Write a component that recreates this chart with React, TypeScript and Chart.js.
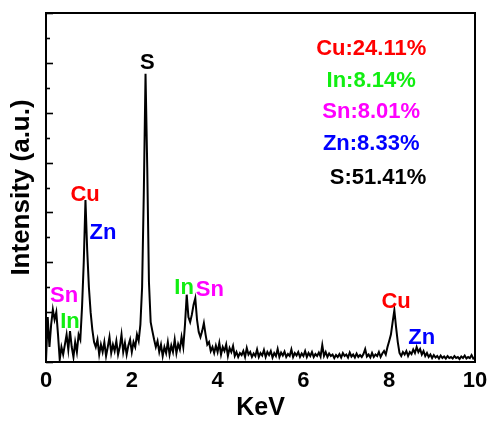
import React, { useEffect, useRef } from "react";
import { Chart, registerables } from "chart.js";

Chart.register(...registerables);

// Sampling grid of the EDS spectrum (keV)
const STEP_KEV = 0.04;
// Intensity (a.u.), one value per 0.04 keV, 0.00 .. 10.00 keV
const COUNTS = [
  0.02, 0.9, 0.3, 0.75, 1.05, 0.85, 1.0, 0.55, 0.05, 0.3,
  0.15, 0.35, 0.55, 0.25, 0.62, 0.3, 0.1, 0.4, 0.2, 0.55,
  0.45, 1.1, 2.0, 3.25, 2.25, 1.5, 1.0, 0.65, 0.4, 0.3,
  0.45, 0.15, 0.35, 0.2, 0.4, 0.12, 0.3, 0.5, 0.18, 0.35,
  0.22, 0.42, 0.15, 0.3, 0.55, 0.2, 0.38, 0.15, 0.33, 0.45,
  0.2, 0.4, 0.3, 0.55, 0.42, 0.75, 1.5, 3.4, 5.78, 3.9,
  1.6, 0.8, 0.62, 0.45, 0.3, 0.42, 0.2, 0.35, 0.12, 0.3,
  0.18, 0.4, 0.15, 0.33, 0.2, 0.45, 0.18, 0.36, 0.25, 0.5,
  0.3, 0.75, 1.35, 0.9, 0.8, 0.95, 1.15, 1.28, 0.85, 0.6,
  0.5, 0.62, 0.78, 0.55, 0.35, 0.4, 0.22, 0.3, 0.18, 0.33,
  0.2, 0.38, 0.15, 0.3, 0.22, 0.35, 0.12, 0.28, 0.2, 0.32,
  0.12, 0.2, 0.1, 0.18, 0.14, 0.22, 0.1, 0.28, 0.15, 0.2,
  0.1, 0.17, 0.12, 0.25, 0.1, 0.18, 0.13, 0.24, 0.1, 0.2,
  0.14, 0.22, 0.09, 0.18, 0.12, 0.26, 0.1, 0.19, 0.13, 0.21,
  0.1, 0.16, 0.12, 0.25, 0.1, 0.18, 0.13, 0.2, 0.1, 0.17,
  0.12, 0.22, 0.1, 0.18, 0.12, 0.2, 0.1, 0.16, 0.12, 0.19,
  0.11, 0.34, 0.12, 0.2, 0.1, 0.17, 0.12, 0.15, 0.08, 0.14,
  0.1, 0.16, 0.09, 0.18, 0.12, 0.15, 0.09, 0.19, 0.11, 0.15,
  0.09, 0.17, 0.1, 0.14, 0.1, 0.16, 0.26, 0.11, 0.15, 0.09,
  0.18, 0.1, 0.15, 0.12, 0.2, 0.1, 0.17, 0.22, 0.15, 0.3,
  0.42, 0.55, 0.8, 1.04, 0.7, 0.4, 0.18, 0.12, 0.2, 0.15,
  0.22, 0.12, 0.2, 0.16, 0.25, 0.18, 0.3, 0.2, 0.26, 0.15,
  0.22, 0.12, 0.18, 0.1, 0.15, 0.08, 0.14, 0.09, 0.12, 0.07,
  0.13, 0.08, 0.11, 0.07, 0.12, 0.08, 0.1, 0.07, 0.12, 0.08,
  0.1, 0.06, 0.11, 0.08, 0.13, 0.07, 0.1, 0.08, 0.14, 0.07,
  0.09,
];

// Axis ranges
const X_MIN = 0;
const X_MAX = 10;
const X_STEP = 2;
const Y_MIN = 0;
const Y_MAX = 7;
const Y_MAJOR = 1;
const Y_MINOR = 0.5;

// Peak labels
const PEAK_LABELS = ["S", "Cu", "Zn", "Sn", "In", "In", "Sn", "Cu", "Zn"];
const PEAK_COLORS = ["#000000", "#ff0000", "#0000ff", "#ff00ff", "#11ee11", "#11ee11", "#ff00ff", "#ff0000", "#0000ff"];
const PEAK_X = [2.36, 0.91, 1.33, 0.42, 0.56, 3.22, 3.82, 8.16, 8.76];
const PEAK_Y = [6.0, 3.36, 2.59, 1.32, 0.8, 1.49, 1.44, 1.2, 0.48];

// Composition
const COMP_LABELS = ["Cu:24.11%", "In:8.14%", "Sn:8.01%", "Zn:8.33%", "S:51.41%"];
const COMP_COLORS = ["#ff0000", "#11ee11", "#ff00ff", "#0000ff", "#000000"];
const COMP_X = [7.58, 7.58, 7.58, 7.58, 7.74];
const COMP_Y = [6.27, 5.64, 5.02, 4.38, 3.69];

const FONT = "'Liberation Sans', Arial, Helvetica, sans-serif";

export default function App() {
  const ref = useRef<HTMLCanvasElement | null>(null);

  useEffect(() => {
    const canvas = ref.current;
    if (!canvas) return;

    const framePlugin = {
      id: "frameAndLabels",
      afterDatasetsDraw(chart: any) {
        const { ctx, chartArea, scales } = chart;
        const xs = scales.x;
        const ys = scales.y;
        ctx.save();
        // frame
        ctx.strokeStyle = "#000";
        ctx.lineWidth = 2;
        ctx.strokeRect(chartArea.left, chartArea.top, chartArea.right - chartArea.left, chartArea.bottom - chartArea.top);
        // inward y ticks
        ctx.lineWidth = 1.6;
        for (let v = Y_MIN; v <= Y_MAX + 1e-9; v += Y_MINOR) {
          const py = Math.round(ys.getPixelForValue(v)) + 0.5;
          const major = Math.abs(v / Y_MAJOR - Math.round(v / Y_MAJOR)) < 1e-6;
          const len = major ? 7 : 4;
          ctx.beginPath();
          ctx.moveTo(chartArea.left, py);
          ctx.lineTo(chartArea.left + len, py);
          ctx.stroke();
        }
        // peak labels
        ctx.textAlign = "center";
        ctx.textBaseline = "middle";
        ctx.font = `bold 22px ${FONT}`;
        for (let i = 0; i < PEAK_LABELS.length; i++) {
          ctx.fillStyle = PEAK_COLORS[i];
          ctx.fillText(PEAK_LABELS[i], xs.getPixelForValue(PEAK_X[i]), ys.getPixelForValue(PEAK_Y[i]));
        }
        for (let i = 0; i < COMP_LABELS.length; i++) {
          ctx.fillStyle = COMP_COLORS[i];
          ctx.fillText(COMP_LABELS[i], xs.getPixelForValue(COMP_X[i]), ys.getPixelForValue(COMP_Y[i]));
        }
        ctx.restore();
      },
    };

    const points = COUNTS.map((c, i) => ({ x: Math.round(i * STEP_KEV * 100) / 100, y: c }));

    const chart = new Chart(canvas, {
      type: "line",
      data: {
        datasets: [
          {
            data: points,
            borderColor: "#000000",
            borderWidth: 2,
            pointRadius: 0,
            tension: 0,
            fill: false,
          },
        ],
      },
      options: {
        responsive: false,
        maintainAspectRatio: false,
        animation: false,
        layout: { padding: { left: 0, right: 13, top: 13, bottom: 0 } },
        plugins: { legend: { display: false }, tooltip: { enabled: false } },
        scales: {
          x: {
            type: "linear",
            min: X_MIN,
            max: X_MAX,
            grid: { display: false, drawTicks: false },
            border: { display: false },
            ticks: {
              stepSize: X_STEP,
              color: "#000",
              padding: 6,
              font: { family: FONT, size: 22, weight: "bold" },
            },
            title: {
              display: true,
              text: "KeV",
              color: "#000",
              font: { family: FONT, size: 25, weight: "bold", lineHeight: 1 },
              padding: 0,
            },
            afterFit(scale: any) {
              scale.height = 59;
              scale.paddingLeft = 0;
              scale.paddingRight = 0;
            },
          },
          y: {
            type: "linear",
            min: Y_MIN,
            max: Y_MAX,
            grid: { display: false, drawTicks: false },
            border: { display: false },
            ticks: { display: false, stepSize: Y_MAJOR },
            title: {
              display: true,
              text: "Intensity (a.u.)",
              color: "#000",
              font: { family: FONT, size: 26, weight: "bold", lineHeight: 1 },
              padding: { top: 9, bottom: 0 },
            },
            afterFit(scale: any) {
              scale.width = 46;
              scale.paddingTop = 0;
              scale.paddingBottom = 0;
            },
          },
        },
      },
      plugins: [framePlugin],
    });

    return () => chart.destroy();
  }, []);

  return (
    <div style={{ position: "absolute", left: 0, top: 0, width: 488, height: 421, background: "#fff" }}>
      <canvas ref={ref} width={488} height={421} />
    </div>
  );
}
